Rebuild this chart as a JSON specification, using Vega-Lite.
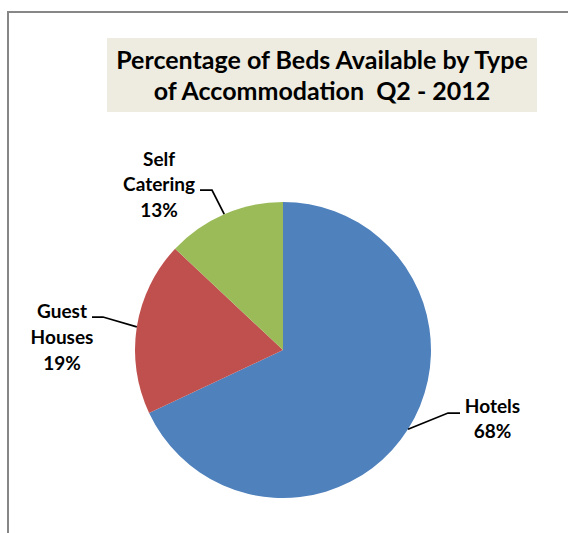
{
  "$schema": "https://vega.github.io/schema/vega-lite/v6.json",
  "padding": {"left": 7, "top": 11, "right": 0, "bottom": 0},
  "autosize": {"type": "pad"},
  "background": "white",
  "bounds": "flush",
  "spacing": 0,
  "config": {"view": {"stroke": null}, "font": "Lato"},
  "hconcat": [
    {
      "width": 2,
      "height": 522,
      "view": {"fill": "#878787"},
      "data": {"values": []},
      "mark": "point"
    },
    {
      "spacing": 25,
      "bounds": "flush",
      "vconcat": [
        {
          "width": 559,
          "height": 2,
          "view": {"fill": "#878787"},
          "data": {"values": []},
          "mark": "point"
        },
        {
          "spacing": 97,
          "bounds": "flush",
          "hconcat": [
            {
              "width": 1,
              "height": 1,
              "data": {"values": []},
              "mark": "point"
            },
            {
              "spacing": 55,
              "bounds": "flush",
              "vconcat": [
                {
                  "width": 430,
                  "height": 74,
                  "view": {"fill": "#EEECE1"},
                  "data": {"values": [{}]},
                  "mark": {
                    "type": "text",
                    "text": ["Percentage of Beds Available by Type", "of Accommodation \u00a0Q2 - 2012"],
                    "font": "Lato",
                    "fontWeight": "bold",
                    "fontSize": 25,
                    "lineHeight": 31,
                    "align": "center",
                    "baseline": "top",
                    "dy": -26,
                    "color": "#000000"
                  }
                },
                {
                  "width": 352,
                  "height": 366,
                  "data": {
                    "values": [
                      {"type": "Hotels", "share": 0.68},
                      {"type": "Guest Houses", "share": 0.19},
                      {"type": "Self Catering", "share": 0.13}
                    ]
                  },
                  "layer": [
                    {
                      "mark": {"type": "arc", "outerRadius": 148},
                      "encoding": {
                        "theta": {"field": "share", "type": "quantitative", "stack": true},
                        "order": {"field": "share", "type": "quantitative", "sort": "descending"},
                        "color": {
                          "field": "type",
                          "type": "nominal",
                          "scale": {
                            "domain": ["Hotels", "Guest Houses", "Self Catering"],
                            "range": ["#4F81BD", "#C0504D", "#9BBB59"]
                          },
                          "legend": null
                        }
                      }
                    },
                    {
                      "mark": {
                        "type": "point",
                        "filled": false,
                        "size": 4,
                        "stroke": "#000000",
                        "strokeWidth": 1.75,
                        "opacity": 1
                      },
                      "encoding": {
                        "shape": {
                          "field": "type",
                          "type": "nominal",
                          "scale": {
                            "domain": ["Hotels", "Guest Houses", "Self Catering"],
                            "range": [
                              "M125,79.3L165,63L177,63",
                              "M-146.2,-23.2L-180,-33L-191,-33",
                              "M-58.8,-135.8L-71,-160L-83,-160"
                            ]
                          },
                          "legend": null
                        }
                      }
                    },
                    {
                      "mark": {
                        "type": "text",
                        "radius": 148,
                        "lineBreak": " ",
                        "font": "Lato",
                        "fontWeight": "bold",
                        "fontSize": 19,
                        "lineHeight": 25.5,
                        "align": "center",
                        "baseline": "top",
                        "dx": {"expr": "datum.type === 'Hotels' ? 84.5 : datum.type === 'Guest Houses' ? -74.8 : -65.2"},
                        "dy": {"expr": "datum.type === 'Hotels' ? -31.3 : datum.type === 'Guest Houses' ? -23.8 : -63.2"}
                      },
                      "encoding": {
                        "theta": {"field": "share", "type": "quantitative", "stack": true},
                        "order": {"field": "share", "type": "quantitative", "sort": "descending"},
                        "detail": {"field": "type", "type": "nominal"},
                        "text": {"field": "type", "type": "nominal"},
                        "color": {"value": "#000000"}
                      }
                    },
                    {
                      "mark": {
                        "type": "text",
                        "radius": 148,
                        "font": "Lato",
                        "fontWeight": "bold",
                        "fontSize": 19,
                        "align": "center",
                        "baseline": "top",
                        "dx": {"expr": "datum.type === 'Hotels' ? 84.5 : datum.type === 'Guest Houses' ? -74.8 : -65.2"},
                        "dy": {"expr": "datum.type === 'Hotels' ? -6.3 : datum.type === 'Guest Houses' ? 28.2 : -12.2"}
                      },
                      "encoding": {
                        "theta": {"field": "share", "type": "quantitative", "stack": true},
                        "order": {"field": "share", "type": "quantitative", "sort": "descending"},
                        "detail": {"field": "type", "type": "nominal"},
                        "text": {"field": "share", "type": "quantitative", "format": ".0%"},
                        "color": {"value": "#000000"}
                      }
                    }
                  ]
                }
              ]
            }
          ]
        }
      ]
    }
  ]
}
